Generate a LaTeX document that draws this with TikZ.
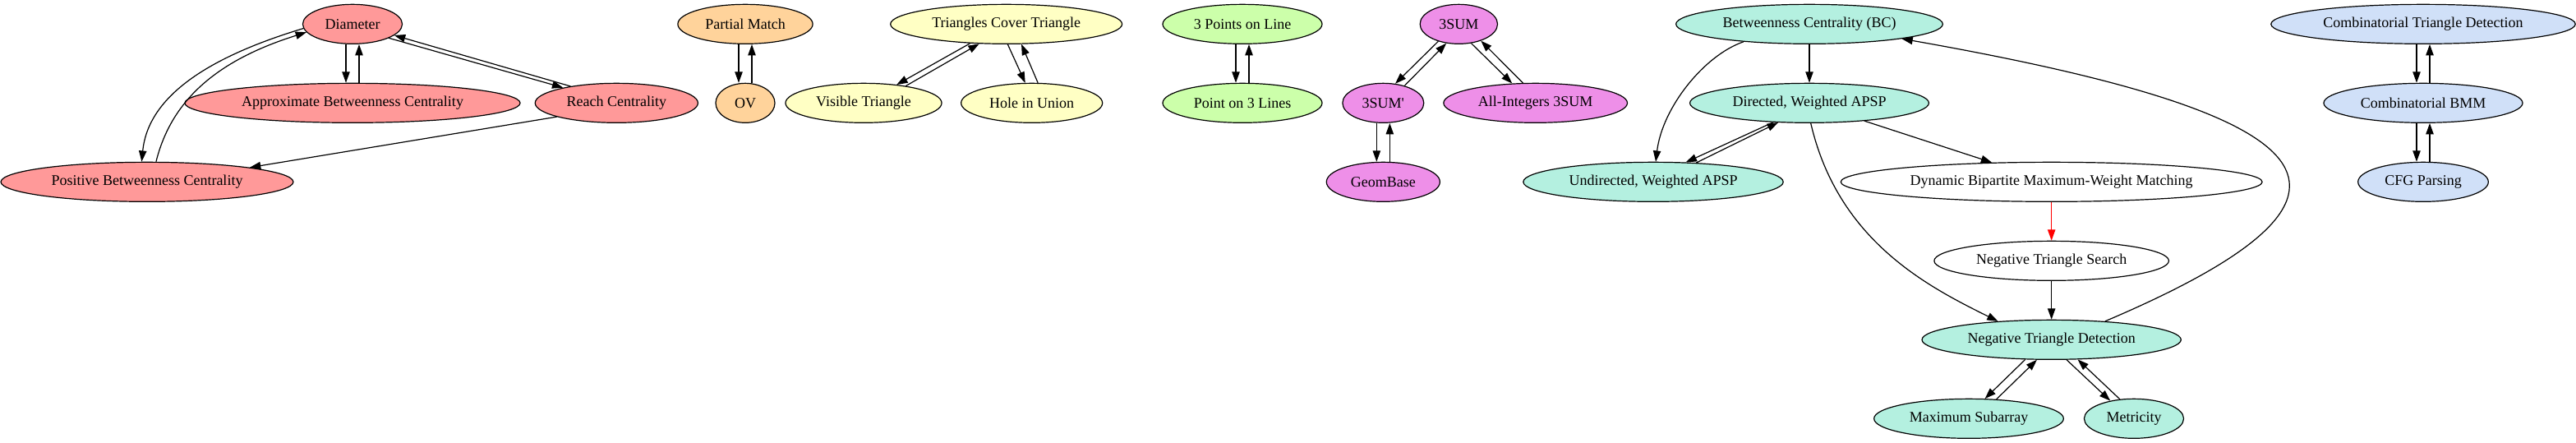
\documentclass[tikz,border=0pt]{standalone}
\usepackage{fontspec}
\setmainfont{Liberation Serif}
\usetikzlibrary{shapes,arrows.meta}
\definecolor{cred}{HTML}{FF9999}
\definecolor{corange}{HTML}{FFD39B}
\definecolor{cyellow}{HTML}{FFFFC4}
\definecolor{cgreen}{HTML}{CCFFAA}
\definecolor{cviolet}{HTML}{EE8FE8}
\definecolor{cmint}{HTML}{B4F0E0}
\definecolor{cblue}{HTML}{D0E0F8}
\tikzstyle{problem} = [ellipse, draw, line width=0.9pt, inner xsep=7pt, inner ysep=3pt, minimum height=36pt, minimum width=54pt, font=\fontsize{13.5pt}{16pt}\selectfont]
\tikzstyle{line} = [draw, line width=0.9pt, -{Triangle[length=10pt,width=7pt]}]
\begin{document}
\begin{tikzpicture}[x=1pt, y=1pt, node distance=72pt]
  \useasboundingbox (0,0) rectangle (2351.25,404.25);
  % Place nodes
  \node [problem, fill=cred] (diam) at (321.75,382.25) {Diameter};
  \node [problem, fill=cred, below of=diam] (abc) {Approximate Betweenness Centrality};
  \node [problem, fill=cred, node distance=241pt, right of=abc] (reach) {Reach Centrality};
  \node [problem, fill=cred, below of=abc, xshift=-187.5pt] (pbc) {Positive Betweenness Centrality};
  \node [problem, fill=corange, node distance=358.5pt, right of=diam] (pmatch) {Partial Match};
  \node [problem, fill=corange, below of=pmatch] (ov) {OV};
  \node [problem, fill=cyellow, node distance=238.25pt, right of=pmatch] (tct) {Triangles Cover Triangle};
  \node [problem, fill=cyellow, node distance=108pt, right of=ov] (vistri) {Visible Triangle};
  \node [problem, fill=cyellow, node distance=153.5pt, right of=vistri] (hole) {Hole in Union};
  \node [problem, fill=cgreen, node distance=215.5pt, right of=tct] (ptsline) {3 Points on Line};
  \node [problem, fill=cgreen, below of=ptsline] (ptlines) {Point on 3 Lines};
  \node [problem, fill=cviolet, node distance=197.5pt, right of=ptsline] (tsum) {3SUM};
  \node [problem, fill=cviolet, node distance=128.5pt, right of=ptlines] (tsump) {3SUM\textquotesingle};
  \node [problem, fill=cviolet, node distance=139pt, right of=tsump] (allint) {All-Integers 3SUM};
  \node [problem, fill=cviolet, below of=tsump] (geom) {GeomBase};
  \node [problem, fill=cmint, node distance=320pt, right of=tsum] (bc) {Betweenness Centrality (BC)};
  \node [problem, fill=cmint, below of=bc] (dapsp) {Directed, Weighted APSP};
  \node [problem, fill=cmint, node distance=246.5pt, right of=geom] (uapsp) {Undirected, Weighted APSP};
  \node [problem, node distance=363.5pt, right of=uapsp] (dbmwm) {Dynamic Bipartite Maximum-Weight Matching};
  \node [problem, below of=dbmwm] (nts) {Negative Triangle Search};
  \node [problem, fill=cmint, below of=nts] (ntd) {Negative Triangle Detection};
  \node [problem, fill=cmint, below of=ntd, xshift=-75.5pt] (maxsub) {Maximum Subarray};
  \node [problem, fill=cmint, node distance=150.75pt, right of=maxsub] (metric) {Metricity};
  \node [problem, fill=cblue, node distance=560.25pt, right of=bc] (ctd) {Combinatorial Triangle Detection};
  \node [problem, fill=cblue, below of=ctd] (bmm) {Combinatorial BMM};
  \node [problem, fill=cblue, below of=bmm] (cfg) {CFG Parsing};
  % Draw edges
  \path [line] ([xshift=-6pt]diam.south) -- ([xshift=-6pt]abc.north);
  \path [line] ([xshift=6pt]abc.north) -- ([xshift=6pt]diam.south);
  \path [line] (diam.-21) -- (reach.164);
  \path [line] (reach.160) -- (diam.-15);
  \path [line] (diam.185) .. controls (190.2,352.2) and (135.2,316.4) .. (pbc.105);
  \path [line] (pbc.66) .. controls (156.9,314.9) and (200.7,350) .. (diam.190);
  \path [line] (reach.193) -- (pbc.8);
  \path [line] ([xshift=-6pt]pmatch.south) -- ([xshift=-6pt]ov.north);
  \path [line] ([xshift=6pt]ov.north) -- ([xshift=6pt]pmatch.south);
  \path [line] (tct.208) -- (vistri.29);
  \path [line] (vistri.22) -- (tct.216);
  \path [line] (tct.-86) -- (hole.108);
  \path [line] (hole.73) -- (tct.-53);
  \path [line] ([xshift=-6pt]ptsline.south) -- ([xshift=-6pt]ptlines.north);
  \path [line] ([xshift=6pt]ptlines.north) -- ([xshift=6pt]ptsline.south);
  \path [line] (tsum.220) -- (tsump.58);
  \path [line] (tsump.39) -- (tsum.237);
  \path [line] (tsum.-57) -- (allint.140);
  \path [line] (allint.122) -- (tsum.-37);
  \path [line] ([xshift=-6pt]tsump.south) -- ([xshift=-6pt]geom.north);
  \path [line] ([xshift=6pt]geom.north) -- ([xshift=6pt]tsump.south);
  \path [line] (bc) -- (dapsp);
  \path [line] (bc.195) .. controls (1555.7,354) and (1517.3,306.3) .. (uapsp.83);
  \path [line] (dapsp.208) -- (uapsp.31);
  \path [line] (uapsp.24) -- (dapsp.212);
  \path [line] (dapsp) -- (dbmwm);
  \path [line] (dapsp.-86) .. controls (1677.6,184.6) and (1759.5,142.8) .. (ntd.161);
  \path [line, red] (dbmwm) -- (nts);
  \path [line] (nts) -- (ntd);
  \path [line] (ntd.19) .. controls (2198.9,229) and (2128.6,299.7) .. (bc.-9);
  \path [line] (ntd.217) -- (maxsub.51);
  \path [line] (maxsub.35) -- (ntd.234);
  \path [line] (ntd.-53) -- (metric.143);
  \path [line] (metric.126) -- (ntd.-37);
  \path [line] ([xshift=-6pt]ctd.south) -- ([xshift=-6pt]bmm.north);
  \path [line] ([xshift=6pt]bmm.north) -- ([xshift=6pt]ctd.south);
  \path [line] ([xshift=-6pt]bmm.south) -- ([xshift=-6pt]cfg.north);
  \path [line] ([xshift=6pt]cfg.north) -- ([xshift=6pt]bmm.south);
\end{tikzpicture}
\end{document}
